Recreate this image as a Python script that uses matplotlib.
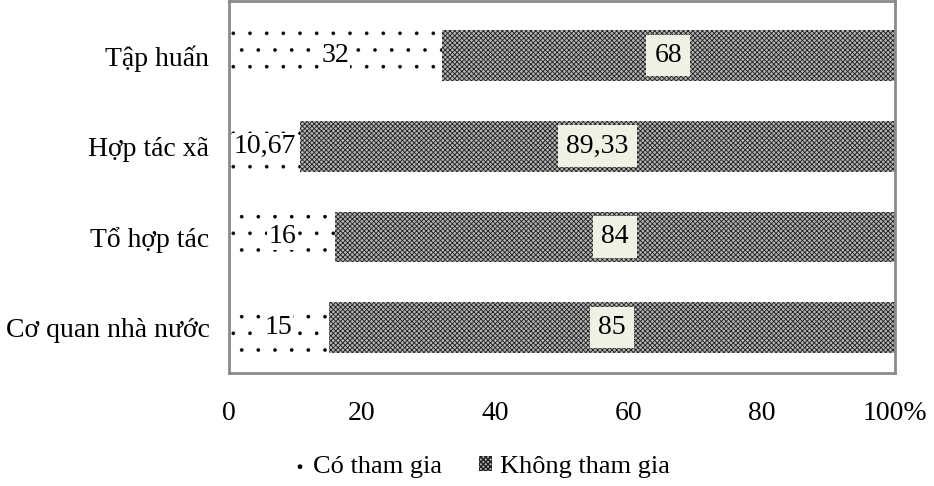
import numpy as np
import matplotlib.pyplot as plt

plt.rcParams['font.family'] = ['Liberation Serif', 'DejaVu Serif']

categories = ["Cơ quan nhà nước", "Tổ hợp tác", "Hợp tác xã", "Tập huấn"]
co_tham_gia = [15, 16, 10.67, 32]
khong_tham_gia = [85, 84, 89.33, 68]
co_labels = ["15", "16", "10,67", "32"]
khong_labels = ["85", "84", "89,33", "68"]
xticks = [0, 20, 40, 60, 80, 100]
xticklabels = ["0", "20", "40", "60", "80", "100%"]

fig = plt.figure(figsize=(9.34, 4.86), dpi=100)
ax = fig.add_axes([0.245, 0.2325, 0.713, 0.765])

y = np.arange(len(categories))
h = 0.56
fs = 20

with plt.rc_context({'hatch.linewidth': 0.2}):
    b1 = ax.barh(y, co_tham_gia, height=h, color='white', edgecolor='black',
                 hatch='.', linewidth=0, label='Có tham gia')
with plt.rc_context({'hatch.linewidth': 0.6}):
    b2 = ax.barh(y, khong_tham_gia, left=co_tham_gia, height=h, color='#b4b4b4',
                 edgecolor='#202020', hatch='xxxxxxx', linewidth=0, label='Không tham gia')

for p in b1:
    if hasattr(p, 'set_hatch_linewidth'):
        p.set_hatch_linewidth(0.2)

for i in range(len(categories)):
    ax.text(co_tham_gia[i] / 2, y[i], co_labels[i], ha='center', va='center',
            fontsize=fs, bbox=dict(boxstyle='square,pad=0.03', fc='white', ec='none'))
    ax.text(co_tham_gia[i] + khong_tham_gia[i] / 2, y[i], khong_labels[i],
            ha='center', va='center', fontsize=fs,
            bbox=dict(boxstyle='square,pad=0.3', fc='#eef1e3', ec='none'))

ax.set_xlim(0, 100)
ax.set_ylim(-0.5, 3.6)
ax.set_yticks(y)
ax.set_yticklabels(categories, fontsize=fs)
ax.set_xticks(xticks)
ax.set_xticklabels(xticklabels, fontsize=fs)
ax.tick_params(length=0, pad=14)
ax.tick_params(axis='x', pad=20)
for s in ax.spines.values():
    s.set_color('#8a8a8a')
    s.set_linewidth(2)

fig.legend(handles=[b1, b2], loc='center', bbox_to_anchor=(0.515, 0.04), ncol=2,
           frameon=False, fontsize=19, handlelength=0.5, handleheight=0.5,
           handletextpad=0.3, columnspacing=1.4)

fig.savefig('out.png', dpi=100)
